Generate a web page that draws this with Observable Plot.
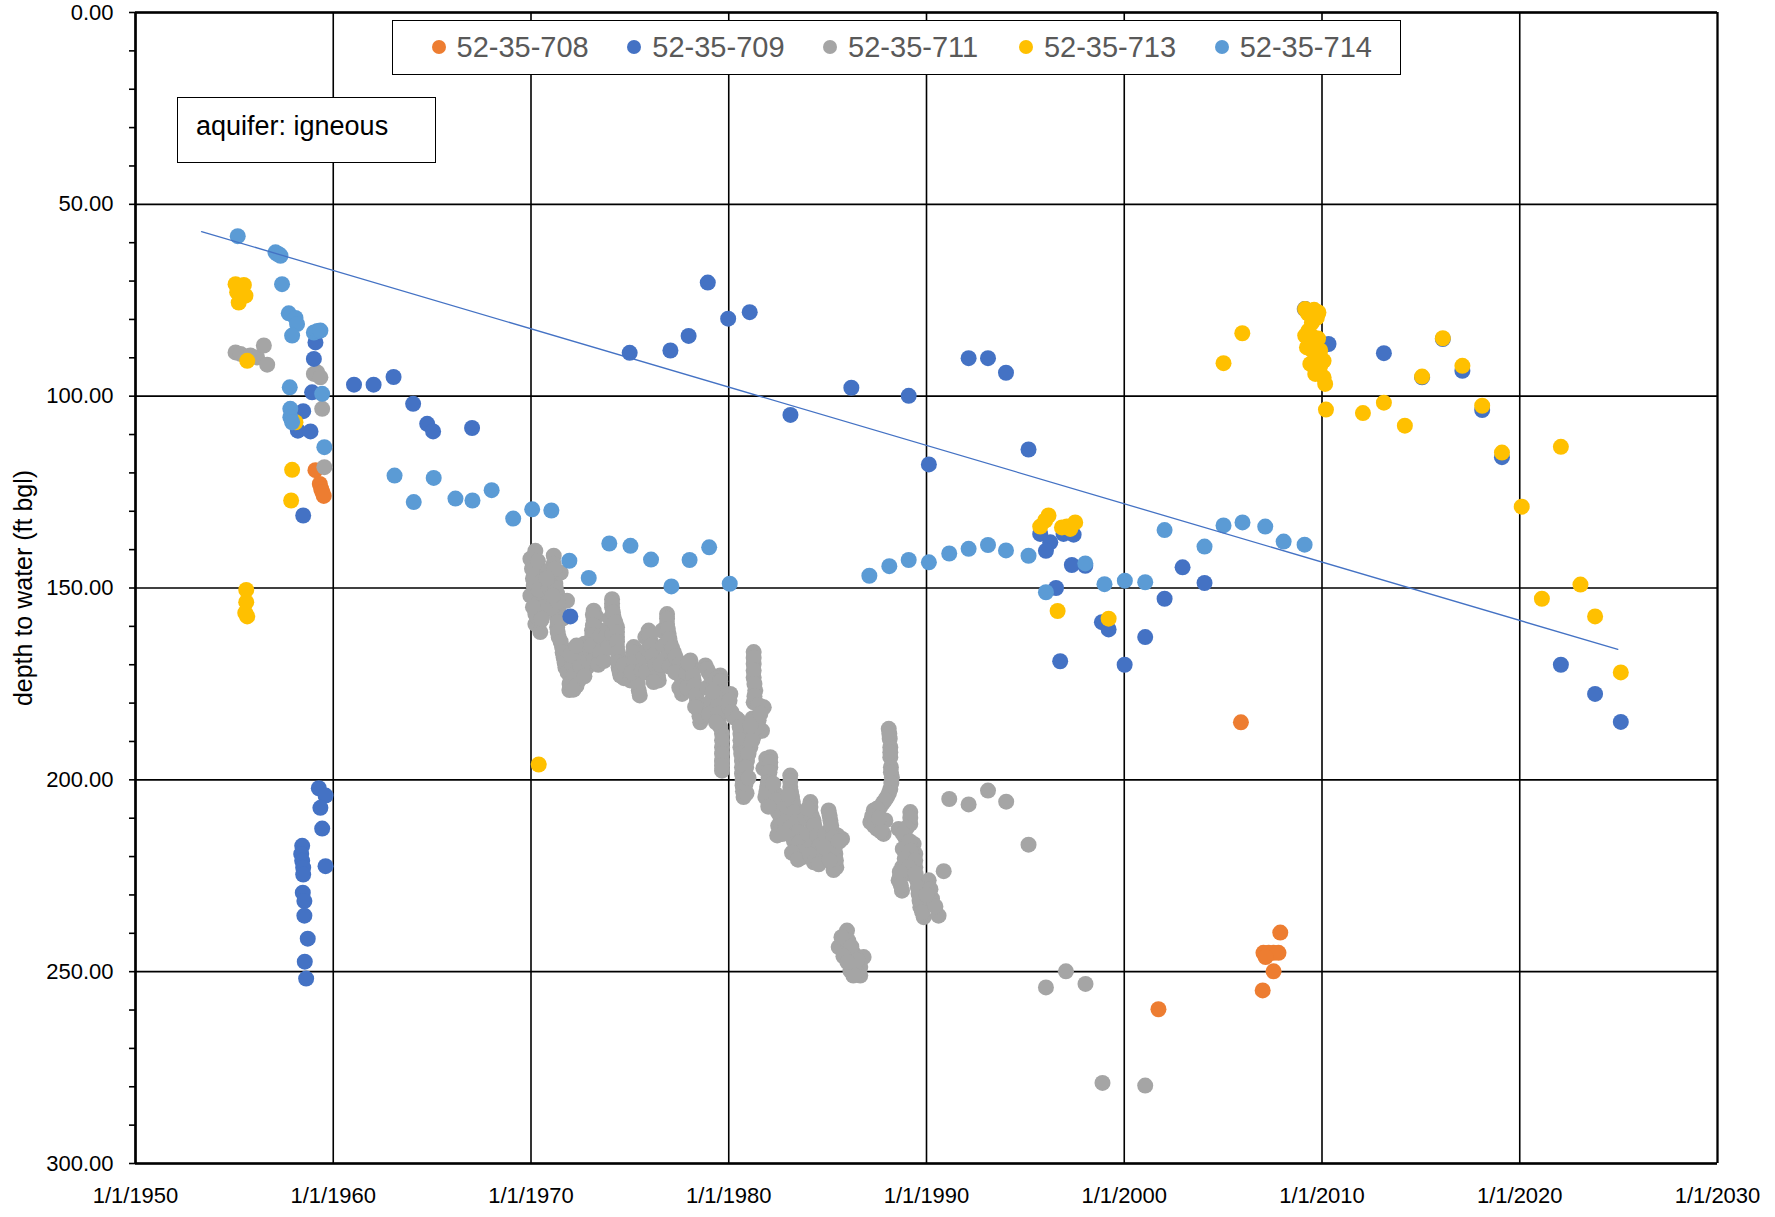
<!DOCTYPE html>
<html>
<head>
<meta charset="utf-8">
<script src="https://cdn.jsdelivr.net/npm/d3@7"></script>
<script src="https://cdn.jsdelivr.net/npm/@observablehq/plot@0.6"></script>
<style>
  body { margin: 0; background: #fff; }
  #wrap { position: relative; width: 1775px; height: 1217px; font-family: "Liberation Sans", Arial, sans-serif; }
  #legend { position: absolute; left: 392px; top: 20px; width: 1009px; height: 55px; border: 1.5px solid #000; box-sizing: border-box; background: #fff; }
  .item { position: absolute; top: 0; height: 52px; line-height: 52px; font-size: 29px; color: #595959; white-space: nowrap; }
  .sw { position: absolute; width: 14px; height: 14px; border-radius: 50%; top: 19px; }
  #note { position: absolute; left: 177px; top: 97px; width: 259px; height: 66px; border: 1.5px solid #000; box-sizing: border-box; background: #fff; font-size: 27px; line-height: 56px; padding-left: 18px; color: #000; }
</style>
</head>
<body>
<div id="wrap"><div id="chart"></div><div id="legend"></div><div id="note">aquifer: igneous</div></div>
<script>
// ---- series (legend order) ----
const seriesNames = ["52-35-708", "52-35-709", "52-35-711", "52-35-713", "52-35-714"];
const seriesColors = ["#ED7D31", "#4472C4", "#A5A5A5", "#FFC000", "#5B9BD5"];
const drawOrder = ["52-35-708", "52-35-711", "52-35-709", "52-35-713", "52-35-714"];

// ---- axis ticks ----
const xTicks = [1950, 1960, 1970, 1980, 1990, 2000, 2010, 2020, 2030];
const yMajor = [0, 50, 100, 150, 200, 250, 300];
const yTicks = [0,10,20,30,40,50,60,70,80,90,100,110,120,130,140,150,160,170,180,190,200,210,220,230,240,250,260,270,280,290,300];

// ---- trend line (start / end) ----
const trendYears = [1953.34, 2024.96];
const trendDepths = [57.1, 166.0];

// ---- data: [decimal year, depth to water ft] ----
const well708 = [
  [1959.10,119.3],[1959.32,122.9],[1959.39,124.2],[1959.45,125.0],[1959.52,126.0],
  [2001.73,259.8],[2005.90,185.0],[2007.89,239.8],[2007.04,245.1],[2007.30,245.1],[2007.55,245.1],
  [2007.80,245.1],[2007.15,246.2],[2007.55,249.9],[2007.00,254.9]
];

const well709 = [
  [1958.43,217.2],[1958.38,219.3],[1958.43,221.1],[1958.48,222.9],[1958.48,224.7],[1958.46,229.4],
  [1958.54,231.6],[1958.54,235.4],[1958.71,241.4],[1958.56,247.4],[1958.63,251.8],
  [1959.27,202.2],[1959.61,204.1],[1959.35,207.3],[1959.44,212.7],[1959.61,222.5],
  [1959.10,86.0],[1959.02,90.3],[1958.93,99.0],[1958.48,103.9],[1958.21,109.0],[1958.85,109.2],[1958.48,131.1],
  [1961.05,97.0],[1962.04,97.0],[1963.05,95.0],[1964.04,102.0],[1964.75,107.2],[1965.05,109.2],[1967.02,108.3],
  [1971.99,157.4],
  [1974.99,88.7],[1977.05,88.1],[1977.97,84.3],[1978.94,70.4],[1979.97,79.8],[1981.06,78.1],[1983.12,104.9],
  [1986.20,97.8],[1989.10,99.9],[1990.12,117.8],[1992.13,90.1],[1993.11,90.1],[1994.02,93.9],[1995.16,113.9],
  [1995.75,135.9],[1996.26,138.1],[1996.04,140.3],[1996.93,135.9],[1997.44,136.1],[1997.35,144.0],[1998.03,144.2],
  [1996.55,150.0],[1996.76,169.1],[1998.87,158.9],[1999.21,160.8],[2000.02,170.0],[2001.06,162.8],[2002.04,152.8],
  [2002.95,144.6],[2004.06,148.7],
  [2009.15,77.3],[2010.33,86.4],
  [2013.13,88.8],[2015.06,95.1],[2016.11,85.1],[2017.10,93.4],[2018.10,103.6],[2019.10,115.9],
  [2022.08,170.0],[2023.81,177.6],[2025.11,184.9]
];

const well711 = [
  [1955.06,88.6],[1955.31,89.0],[1955.81,89.4],[1956.15,89.9],[1956.49,86.8],[1956.66,91.8],
  [1959.02,94.2],[1959.19,93.8],[1959.35,95.1],[1959.44,103.3],[1959.55,118.5],
  // 1970
  [1970.22,140.3],[1969.97,142.4],[1970.22,144.6],[1970.22,146.8],[1970.14,149.4],[1969.97,152.0],[1970.31,154.2],
  [1970.22,156.8],[1970.22,159.4],[1970.47,161.5],[1970.73,152.4],[1970.64,155.0],[1970.10,147.5],[1970.40,150.5],
  [1970.05,145.0],[1970.35,143.0],[1970.30,157.5],[1970.10,155.0],[1970.50,158.5],
  // 1971
  [1971.15,141.6],[1971.15,143.7],[1971.15,146.3],[1971.23,148.9],[1971.32,151.5],[1971.82,153.3],[1971.40,155.0],
  [1971.32,157.6],[1971.32,160.2],[1971.40,162.8],[1971.57,165.4],[1971.65,168.1],[1971.74,170.7],[1971.99,173.3],
  [1971.94,176.6],[1970.90,145.5],[1970.90,149.8],[1971.05,155.5],[1971.60,158.0],[1970.55,158.0],[1971.50,146.0],
  [1971.20,145.0],[1971.25,150.0],[1971.35,153.5],[1971.35,159.0],[1971.35,161.5],[1971.50,164.0],[1971.60,166.8],
  [1971.70,169.4],[1971.85,172.0],[1971.95,175.0],[1971.10,152.0],[1970.80,147.5],
  // 1972
  [1972.24,166.3],[1972.41,168.9],[1972.58,172.4],[1972.41,174.1],[1972.83,170.7],[1972.83,167.2],[1972.10,170.0],[1972.70,164.5],
  [1972.20,172.5],[1972.60,168.5],[1972.00,167.5],[1972.30,165.0],[1972.50,170.5],[1972.70,173.0],[1972.90,169.0],
  [1972.30,175.5],[1972.15,176.5],
  // 1973
  [1973.17,155.9],[1973.17,158.5],[1973.09,161.1],[1973.09,163.7],[1973.00,166.3],[1973.51,161.1],[1973.51,165.4],[1973.51,168.1],[1973.30,157.5],
  [1973.30,163.0],[1973.20,168.5],[1973.13,157.0],[1973.13,159.8],[1973.10,162.4],[1973.05,165.0],[1973.50,162.5],
  [1973.50,166.8],[1973.40,170.0],[1973.70,169.0],
  // 1974
  [1974.10,152.9],[1974.10,155.0],[1974.18,157.6],[1974.35,160.2],[1973.85,161.1],[1973.76,162.8],[1974.35,162.8],[1974.35,165.4],
  [1974.43,168.1],[1974.43,170.7],[1974.52,172.8],[1974.86,173.3],[1974.00,158.0],[1973.90,165.5],[1974.10,162.0],
  [1974.10,154.0],[1974.14,156.3],[1974.27,159.0],[1974.35,161.5],[1974.35,164.0],[1974.40,166.8],[1974.43,169.4],
  [1974.48,171.8],[1974.70,173.5],
  // 1975
  [1975.19,165.4],[1975.19,168.1],[1975.28,170.7],[1975.36,173.3],[1975.45,176.7],[1975.02,174.1],[1974.70,170.0],
  [1975.19,166.8],[1975.23,169.4],[1975.32,172.0],[1975.40,175.0],[1975.10,172.0],[1975.50,178.0],
  // 1976
  [1975.95,161.1],[1975.78,162.8],[1976.04,163.7],[1976.12,166.3],[1976.21,168.9],[1976.37,171.5],[1976.46,174.1],
  [1975.70,168.0],[1975.60,171.5],[1975.80,172.0],[1975.90,166.0],
  [1976.00,162.4],[1976.08,165.0],[1976.17,167.6],[1976.30,170.2],[1976.42,172.8],[1976.20,174.5],
  // 1977
  [1976.88,156.8],[1976.88,159.4],[1976.96,162.0],[1977.05,164.6],[1977.22,166.7],[1977.39,168.9],[1977.55,171.5],
  [1977.64,175.0],[1977.64,177.6],[1976.63,161.1],[1976.70,165.0],[1976.80,168.5],[1976.55,170.0],[1977.00,170.5],
  [1976.88,158.0],[1976.92,160.7],[1977.00,163.3],[1977.13,165.6],[1977.30,167.8],[1977.47,170.2],[1977.60,173.2],
  [1977.64,176.3],[1977.30,172.0],[1977.50,176.0],
  // 1978
  [1978.06,168.9],[1978.14,171.5],[1978.23,174.1],[1978.31,176.7],[1978.40,179.3],[1978.48,181.9],[1978.56,185.0],[1977.85,172.0],[1977.90,176.0],
  [1978.10,170.2],[1978.19,172.8],[1978.27,175.4],[1978.35,178.0],[1978.44,180.6],[1978.52,183.4],[1977.95,169.5],[1978.30,181.0],
  // 1979
  [1978.82,170.2],[1978.99,172.0],[1979.24,174.1],[1979.57,172.8],[1979.57,175.9],[1979.49,178.5],[1979.49,181.1],[1979.49,184.5],
  [1979.66,188.0],[1979.66,191.5],[1979.66,195.0],[1979.66,197.6],[1978.90,176.0],[1979.10,179.5],[1979.30,182.0],[1979.00,183.0],
  [1978.90,171.1],[1979.10,173.0],[1979.40,173.5],[1979.57,174.3],[1979.53,177.2],[1979.49,179.8],[1979.49,182.8],
  [1979.57,186.2],[1979.66,189.7],[1979.66,193.2],[1979.66,196.3],[1979.20,177.0],[1979.35,185.0],
  // 1980
  [1980.08,177.6],[1980.00,181.1],[1980.25,183.7],
  [1980.50,184.5],[1980.59,188.0],[1980.59,191.5],[1980.67,195.0],[1980.67,198.4],[1980.70,201.5],[1980.75,204.5],
  [1980.04,179.3],[1980.15,182.4],[1980.40,184.0],[1980.55,186.2],[1980.59,189.7],[1980.63,193.2],[1980.67,196.7],
  [1980.70,200.0],[1980.72,203.0],[1980.90,203.5],[1980.85,201.0],
  // 1981
  [1981.26,166.7],[1981.26,169.8],[1981.26,173.3],[1981.34,176.7],[1981.26,179.8],[1981.68,181.1],[1981.51,184.5],[1981.34,188.0],
  [1981.09,191.5],[1980.92,195.0],[1980.84,198.4],[1981.43,187.1],[1981.77,181.1],[1981.68,187.2],[1981.20,184.0],
  [1981.26,168.2],[1981.26,171.5],[1981.30,175.0],[1981.30,178.2],[1981.50,180.5],[1981.60,182.8],[1981.42,186.2],
  [1981.20,189.7],[1981.00,193.2],[1980.88,196.7],[1981.10,186.0],[1981.00,199.5],
  // 1982
  [1982.10,194.1],[1982.10,196.7],[1982.02,199.3],[1981.94,201.9],[1981.85,204.5],[1982.36,203.7],[1982.36,207.1],[1982.61,209.7],
  [1982.69,214.1],[1982.20,206.0],[1982.50,212.0],[1981.75,197.0],[1981.90,194.5],
  [1982.10,195.4],[1982.06,198.0],[1981.98,200.6],[1981.90,203.2],[1982.36,205.4],[1982.48,208.4],[1982.65,211.9],
  [1982.25,201.0],[1982.45,214.5],[1982.00,207.0],
  // 1983
  [1983.11,198.9],[1983.11,201.9],[1983.20,204.5],[1983.28,207.1],[1983.37,209.7],[1983.45,212.3],[1983.54,214.9],[1983.62,217.6],
  [1983.70,220.2],[1982.95,207.0],[1982.85,211.0],[1983.10,212.5],[1983.30,216.0],
  [1983.11,200.4],[1983.15,203.2],[1983.24,205.8],[1983.33,208.4],[1983.41,211.0],[1983.50,213.6],[1983.58,216.2],
  [1983.66,218.9],[1983.00,204.0],[1982.80,214.0],[1983.20,219.0],[1983.50,220.8],
  // 1984
  [1984.13,205.8],[1984.13,208.4],[1984.29,210.6],[1984.38,213.2],[1984.55,215.8],[1984.63,218.4],[1984.72,221.0],
  [1983.90,210.0],[1984.00,214.0],[1984.20,217.0],[1984.40,219.5],
  [1984.13,207.1],[1984.20,209.5],[1984.33,211.9],[1984.46,214.5],[1984.59,217.1],[1984.68,219.7],[1984.00,207.5],
  [1984.10,219.5],[1984.30,221.5],[1984.55,222.0],
  // 1985
  [1985.05,208.0],[1985.14,210.6],[1985.22,213.2],[1985.73,215.4],[1985.31,216.7],[1985.39,219.3],[1985.44,222.8],
  [1985.50,214.5],[1984.90,214.0],[1985.00,218.0],
  [1985.10,209.3],[1985.18,211.9],[1985.27,215.0],[1985.35,218.0],[1985.42,221.0],[1985.60,216.0],[1985.30,223.5],
  [1985.10,221.0],[1984.80,217.5],
  // 1985-86 low readings
  [1985.98,239.3],[1985.90,241.9],[1985.56,243.6],[1985.98,244.5],[1986.32,245.3],[1986.82,246.2],[1986.65,248.8],
  [1986.65,251.0],[1986.15,249.7],[1986.05,242.0],[1986.40,248.0],
  [1985.70,241.0],[1986.20,243.5],[1986.50,247.0],[1986.30,251.0],[1985.80,246.0],[1986.00,247.5],
  // 1987-88
  [1988.09,186.7],[1988.14,189.3],[1988.17,191.5],[1988.17,194.1],[1988.20,196.7],[1988.25,199.3],[1988.17,202.4],[1988.00,204.5],
  [1987.80,206.0],[1987.66,207.1],[1987.33,208.0],[1987.16,211.0],[1987.50,212.8],[1987.83,214.1],[1987.92,210.6],
  [1988.12,188.0],[1988.17,192.8],[1988.20,198.0],[1988.22,200.8],[1988.10,203.5],[1987.90,205.3],[1987.50,207.5],
  [1987.25,209.5],[1987.35,212.0],[1987.70,213.5],[1987.60,210.0],
  // 1989-90
  [1989.18,208.4],[1989.18,211.5],[1988.59,212.8],[1988.93,215.0],[1989.35,216.7],[1989.01,219.3],[1989.43,219.3],[1989.43,222.8],
  [1988.76,222.8],[1988.59,226.2],[1988.76,228.9],[1988.80,218.0],[1989.20,224.5],[1988.65,225.5],
  [1989.52,226.2],[1989.60,229.7],[1989.69,233.2],[1989.86,235.8],[1990.11,226.2],[1990.28,231.0],[1990.61,235.4],[1990.87,223.8],
  [1989.18,209.9],[1989.00,212.5],[1988.80,214.0],[1989.15,216.0],[1989.20,218.5],[1988.90,220.5],[1989.43,221.0],
  [1989.10,222.8],[1988.65,224.0],[1988.70,227.5],[1989.45,224.5],[1989.56,228.0],[1989.65,231.5],[1989.78,234.5],
  [1990.20,228.5],[1990.45,233.0],[1990.00,230.0],
  // later
  [1991.15,205.0],[1992.13,206.4],[1993.11,202.8],[1994.03,205.7],[1995.16,216.9],[1996.04,254.1],[1997.05,249.9],
  [1998.04,253.2],[1998.90,279.0],[2001.06,279.7],[2009.12,77.3]
];

const well713 = [
  [1955.06,70.8],[1955.48,71.0],[1955.14,72.9],[1955.56,73.8],[1955.22,75.6],[1955.30,72.0],
  [1955.65,90.8],[1958.09,106.8],[1957.92,119.2],[1957.87,127.2],
  [1955.60,150.5],[1955.60,153.7],[1955.55,156.5],[1955.65,157.4],
  [1970.39,196.0],
  [1995.75,134.0],[1996.00,132.4],[1996.17,131.1],[1996.85,134.2],[1997.10,134.0],[1997.27,134.6],[1997.52,132.9],
  [1996.63,156.0],[1999.21,158.0],
  [2005.02,91.4],[2005.97,83.6],
  [2009.15,77.3],[2009.30,78.5],[2009.60,77.5],[2009.82,78.2],[2009.74,79.5],[2009.49,80.8],[2009.32,82.9],[2009.15,84.2],
  [2009.57,84.7],[2009.80,85.0],[2009.41,85.5],[2009.24,87.3],[2009.50,88.0],[2009.91,88.1],[2009.66,89.0],[2010.08,90.8],
  [2009.41,91.6],[2009.91,92.1],[2009.66,94.2],[2010.08,95.1],[2010.16,96.8],
  [2010.20,103.5],[2012.07,104.4],[2013.13,101.7],[2014.19,107.7],[2015.06,94.9],[2016.11,84.9],[2017.10,92.1],
  [2018.10,102.5],[2019.10,114.7],[2020.10,128.8],[2021.12,152.8],[2022.08,113.2],[2023.07,149.1],[2023.81,157.4],[2025.11,172.0]
];

const well714 = [
  [1955.17,58.3],[1957.08,62.5],[1957.16,62.9],[1957.25,63.0],[1957.33,63.4],[1957.41,70.8],[1957.75,78.4],[1958.09,79.6],
  [1958.17,81.2],[1957.92,84.2],[1959.02,83.4],[1959.20,83.0],[1959.35,82.9],[1957.80,97.7],[1959.44,99.4],
  [1957.83,103.3],[1957.83,105.5],[1957.92,106.8],[1959.55,113.3],
  [1963.10,120.7],[1964.07,127.6],[1965.08,121.3],[1966.18,126.7],[1967.04,127.2],[1968.01,124.5],[1969.10,131.9],
  [1970.06,129.5],[1971.03,129.8],[1971.94,142.9],[1972.92,147.4],[1973.96,138.4],[1975.03,139.0],[1976.07,142.6],
  [1977.10,149.6],[1978.02,142.7],[1979.01,139.4],[1980.05,148.9],
  [1987.11,146.8],[1988.12,144.3],[1989.10,142.7],[1990.12,143.3],[1991.15,141.0],[1992.13,139.8],[1993.11,138.8],
  [1994.02,140.2],[1995.16,141.6],[1996.04,151.1],[1998.03,143.6],[1999.00,149.0],[2000.03,148.1],[2001.06,148.5],
  [2002.04,134.9],[2004.06,139.2],[2005.02,133.7],[2005.98,132.9],[2007.13,134.0],[2008.06,137.9],[2009.12,138.7]
];

const seriesData = {
  "52-35-708": well708, "52-35-709": well709, "52-35-711": well711,
  "52-35-713": well713, "52-35-714": well714
};

const rows = drawOrder.flatMap(name => seriesData[name].map(([year, depth]) => ({name, year, depth})));
const trend = trendYears.map((year, i) => ({year, depth: trendDepths[i]}));

const chart = Plot.plot({
  width: 1775,
  height: 1217,
  marginLeft: 135,
  marginRight: 58,
  marginTop: 12,
  marginBottom: 54,
  style: { fontFamily: "'Liberation Sans', Arial, sans-serif", fontSize: "22px", color: "#000", background: "#fff" },
  x: { domain: [1950, 2030] },
  y: { domain: [0, 300], reverse: true },
  color: { domain: seriesNames, range: seriesColors },
  marks: [
    Plot.gridX({ ticks: xTicks, stroke: "#000", strokeOpacity: 1, strokeWidth: 1.6 }),
    Plot.gridY({ ticks: yMajor, stroke: "#000", strokeOpacity: 1, strokeWidth: 1.6 }),
    Plot.ruleX([1950], { stroke: "#000", strokeWidth: 2.6 }),
    Plot.ruleX([2030], { stroke: "#000", strokeWidth: 2 }),
    Plot.ruleY([300], { stroke: "#000", strokeWidth: 2.6 }),
    Plot.ruleY([0], { stroke: "#000", strokeWidth: 2.4 }),
    Plot.axisX({ ticks: xTicks, tickSize: 0, tickPadding: 24, tickFormat: d => `1/1/${d}`, fontSize: 22, label: null }),
    Plot.axisY({ ticks: yTicks, tickSize: 6, tickPadding: 16, strokeWidth: 1.6,
                 tickFormat: d => (d % 50 === 0 ? d.toFixed(2) : ""), fontSize: 22, label: null }),
    Plot.text(["depth to water (ft bgl)"], { frameAnchor: "left", textAnchor: "middle", dx: -112, rotate: -90, fontSize: 25, fill: "#000" }),
    Plot.dot(rows, { x: "year", y: "depth", fill: "name", r: 8 }),
    Plot.line(trend, { x: "year", y: "depth", stroke: "#4472C4", strokeWidth: 1.3 })
  ]
});
document.getElementById("chart").appendChild(chart);

// legend (inside plot area, top)
const legend = document.getElementById("legend");
seriesNames.forEach((name, i) => {
  const sw = document.createElement("div");
  sw.className = "sw";
  sw.style.left = (45.5 - 7 + i * 195.8) + "px";
  sw.style.background = seriesColors[i];
  legend.appendChild(sw);
  const t = document.createElement("div");
  t.className = "item";
  t.style.left = (63.5 + i * 195.8) + "px";
  t.textContent = name;
  legend.appendChild(t);
});
</script>
</body>
</html>
